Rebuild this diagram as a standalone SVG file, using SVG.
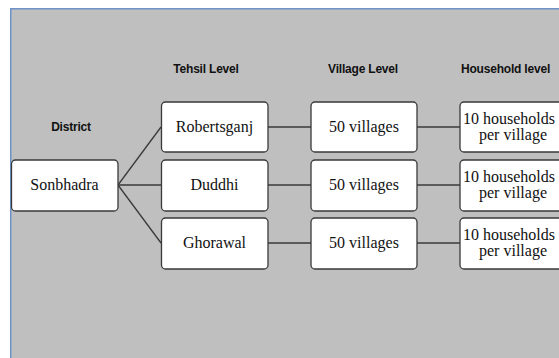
<svg xmlns="http://www.w3.org/2000/svg" width="559" height="358" viewBox="0 0 559 358">
<style>
.bg{fill:#bfbfbf;stroke:#6f93c9;stroke-width:1.5}
.box{fill:#ffffff;stroke:#3a3a3a;stroke-width:1.3}
.hdr{font-family:"Liberation Sans",Arial,sans-serif;font-weight:bold;font-size:12px;fill:#111;letter-spacing:-0.2px}
.lbl{font-family:"Liberation Serif","Times New Roman",serif;font-size:16px;fill:#111;text-anchor:middle}
.lbs{font-family:"Liberation Serif","Times New Roman",serif;font-size:16px;fill:#111;text-anchor:start}
.con line{stroke:#3a3a3a;stroke-width:1.3}
</style>
<rect class="bg" x="10.75" y="8.75" width="560" height="360"/>
<g id="headers">
<text class="hdr" x="71" y="131" text-anchor="middle">District</text>
<text class="hdr" x="206" y="73" text-anchor="middle">Tehsil Level</text>
<text class="hdr" x="363" y="73" text-anchor="middle">Village Level</text>
<text class="hdr" x="461" y="73">Household level</text>
</g>
<g class="con" id="connectors">
<line x1="118" y1="185" x2="161" y2="127"/>
<line x1="118" y1="185" x2="161" y2="185"/>
<line x1="118" y1="185" x2="161" y2="243"/>
<line x1="268" y1="127" x2="311" y2="127"/>
<line x1="268" y1="185" x2="311" y2="185"/>
<line x1="268" y1="243" x2="311" y2="243"/>
<line x1="417" y1="127" x2="460" y2="127"/>
<line x1="417" y1="185" x2="460" y2="185"/>
<line x1="417" y1="243" x2="460" y2="243"/>
</g>
<g id="sonbhadra"><rect class="box" x="11.5" y="160" width="106.5" height="51" rx="4"/><text class="lbl" x="64.5" y="190">Sonbhadra</text></g>
<g id="robertsganj"><rect class="box" x="161.5" y="102" width="106.5" height="50" rx="4"/><text class="lbl" x="214.5" y="132">Robertsganj</text></g>
<g id="duddhi"><rect class="box" x="161.5" y="160" width="106.5" height="51" rx="4"/><text class="lbl" x="214.5" y="190">Duddhi</text></g>
<g id="ghorawal"><rect class="box" x="161.5" y="218" width="106.5" height="51" rx="4"/><text class="lbl" x="214.5" y="248">Ghorawal</text></g>
<g id="village1"><rect class="box" x="311" y="102" width="106" height="50" rx="4"/><text class="lbl" x="364" y="132">50 villages</text></g>
<g id="village2"><rect class="box" x="311" y="160" width="106" height="51" rx="4"/><text class="lbl" x="364" y="190">50 villages</text></g>
<g id="village3"><rect class="box" x="311" y="218" width="106" height="51" rx="4"/><text class="lbl" x="364" y="248">50 villages</text></g>
<g id="household1"><rect class="box" x="460" y="102" width="107" height="50" rx="4"/><text class="lbs" x="463" y="124">10 households</text><text class="lbl" x="513" y="140">per village</text></g>
<g id="household2"><rect class="box" x="460" y="160" width="107" height="51" rx="4"/><text class="lbs" x="463" y="182">10 households</text><text class="lbl" x="513" y="198">per village</text></g>
<g id="household3"><rect class="box" x="460" y="218" width="107" height="51" rx="4"/><text class="lbs" x="463" y="240">10 households</text><text class="lbl" x="513" y="256">per village</text></g>
</svg>
